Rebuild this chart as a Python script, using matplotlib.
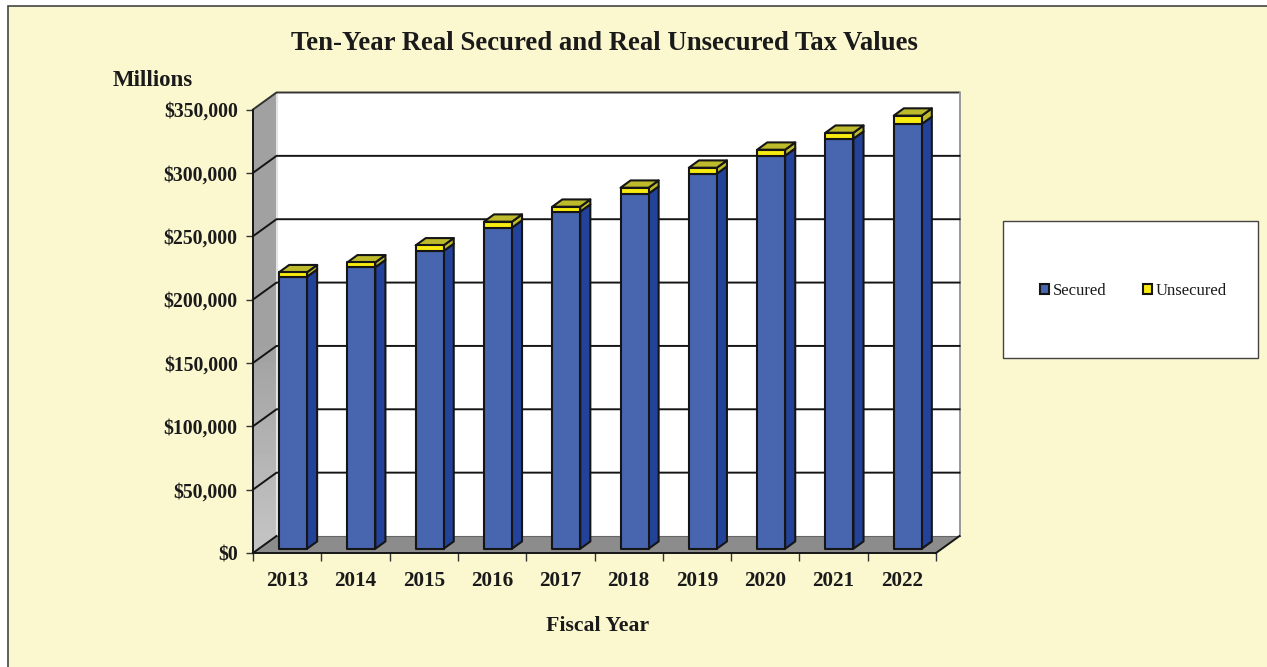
import numpy as np
import matplotlib
matplotlib.use("Agg")
import matplotlib.pyplot as plt
from matplotlib.patches import Polygon, Rectangle, Patch

years = ["2013", "2014", "2015", "2016", "2017", "2018", "2019", "2020", "2021", "2022"]
secured = [214700, 222200, 235000, 253400, 266000, 280200, 296000, 310200, 323600, 335200]
unsecured = [3500, 3800, 4400, 4700, 3900, 4700, 4700, 4700, 4700, 6600]
y_ticks = [0, 50000, 100000, 150000, 200000, 250000, 300000, 350000]

W, H = 1267, 667
BG = "#FBF8D0"
BLUE = "#4866B0"
BLUE_SIDE = "#23439B"
YELLOW = "#F7EB0F"
YELLOW_SIDE = "#BDBB2C"
EDGE = "#151515"

plt.rcParams["font.family"] = ["Liberation Serif", "DejaVu Serif"]
plt.rcParams["font.weight"] = "bold"

fig = plt.figure(figsize=(W / 100, H / 100), dpi=100, facecolor="white")
# page panel, runs off the right and bottom of the image
fig.add_artist(Rectangle((8 / W, -0.05), 1.1, 1 - 6 / H + 0.05, transform=fig.transFigure,
                         facecolor=BG, edgecolor="#444444", linewidth=1.2, zorder=-1))

ax = fig.add_axes([253 / W, 1 - 553 / H, (936 - 253) / W, (553 - 109.5) / H])
ax.set_xlim(-0.5, 9.5)
ax.set_ylim(0, 350000)
ax.patch.set_visible(False)

# oblique depth of the box, in data units
DX = 23.5 * 10 / (936 - 253)
DY = 17 * 350000 / (553 - 109.5)
BAR_D0, BAR_D1 = 0.25, 0.68
BAR_W = 0.41


def poly(pts, **kw):
    ax.add_patch(Polygon(pts, closed=True, clip_on=False, **kw))


x0, x1 = -0.5, 9.5
top = 350000

# back wall
poly([(x0 + DX, DY), (x1 + DX, DY), (x1 + DX, top + DY), (x0 + DX, top + DY)],
     facecolor="white", edgecolor="none", zorder=1)
ax.plot([x0, x0 + DX, x1 + DX], [top, top + DY, top + DY], color="#333333", lw=1.4,
        clip_on=False, zorder=2)
ax.plot([x1 + DX] * 2, [DY, top + DY], color="#999999", lw=1.4, clip_on=False, zorder=2)

# side wall with its light gradient towards the floor
side = Polygon([(x0, 0), (x0 + DX, DY), (x0 + DX, top + DY), (x0, top)], closed=True,
               facecolor="none", edgecolor="none", transform=ax.transData)
ax.add_patch(side)
ramp = np.concatenate([np.full(6, 0.63), np.linspace(0.63, 0.76, 6)])[:, None]
im = ax.imshow(ramp, cmap="gray", vmin=0, vmax=1, aspect="auto", interpolation="bilinear",
               extent=[x0, x0 + DX, 0, top + DY], zorder=1.5)
im.set_clip_box(fig.bbox)
im.set_clip_path(side)
ax.set_xlim(-0.5, 9.5)
ax.set_ylim(0, 350000)
ax.plot([x0 + DX + 0.012] * 2, [DY, top + DY], color="#E4E4E4", lw=1.5, clip_on=False, zorder=1.6)

# floor
poly([(x0, 0), (x1, 0), (x1 + DX, DY), (x0 + DX, DY)], facecolor="#8C8C8C", edgecolor="none", zorder=2)
ax.plot([x0 + DX, x1 + DX], [DY, DY], color="#666666", lw=0.8, clip_on=False, zorder=2.1)
ax.plot([x1, x1 + DX], [0, DY], color="#151515", lw=1.4, clip_on=False, zorder=2.1)

# gridlines on both walls
for t in y_ticks[1:-1]:
    ax.plot([x0, x0 + DX, x1 + DX], [t, t + DY, t + DY], color="#151515", lw=1.4,
            clip_on=False, zorder=3)
ax.plot([x0, x0 + DX], [0, DY], color="#151515", lw=1.4, clip_on=False, zorder=3)

# bars
for i in range(len(years)):
    left = i - BAR_W / 2 + BAR_D0 * DX
    right = left + BAR_W
    base = BAR_D0 * DY
    s = secured[i]
    t = secured[i] + unsecured[i]
    ddx = (BAR_D1 - BAR_D0) * DX
    ddy = (BAR_D1 - BAR_D0) * DY
    kw = dict(edgecolor=EDGE, linewidth=1.5, joinstyle="round", zorder=4)
    poly([(right, base), (right + ddx, base + ddy), (right + ddx, base + s + ddy), (right, base + s)],
         facecolor=BLUE_SIDE, **kw)
    poly([(right, base + s), (right + ddx, base + s + ddy), (right + ddx, base + t + ddy), (right, base + t)],
         facecolor=YELLOW_SIDE, **kw)
    poly([(left, base + t), (right, base + t), (right + ddx, base + t + ddy), (left + ddx, base + t + ddy)],
         facecolor=YELLOW_SIDE, **kw)
    ax.bar(left + BAR_W / 2, s, BAR_W, bottom=base, color=BLUE, clip_on=False, **kw)
    ax.bar(left + BAR_W / 2, unsecured[i], BAR_W, bottom=base + s, color=YELLOW, clip_on=False, **kw)

# axes
for name in ("top", "right"):
    ax.spines[name].set_visible(False)
for name in ("left", "bottom"):
    ax.spines[name].set_linewidth(1.4)
    ax.spines[name].set_color("#151515")
    ax.spines[name].set_zorder(5)
ax.set_xticks(range(len(years)))
ax.set_xticklabels(years)
ax.set_xticks(np.arange(-0.5, 10, 1), minor=True)
ax.set_yticks(y_ticks)
ax.set_yticklabels(["$" + format(t, ",") for t in y_ticks])
ax.tick_params(axis="x", which="major", length=0, pad=13, labelsize=15.2)
ax.tick_params(axis="x", which="minor", length=6, width=1, color="#333333")
ax.tick_params(axis="y", length=5, width=1, color="#333333", pad=6, labelsize=14.2)
for lab in ax.get_xticklabels() + ax.get_yticklabels():
    lab.set_color("#1A1A1A")
    lab.set_fontweight("bold")
    lab.set_parse_math(False)

fig.text(604 / W, 1 - 43 / H, "Ten-Year Real Secured and Real Unsecured Tax Values", ha="center", va="center",
         fontsize=19.3, fontweight="bold", color="#1A1A1A")
fig.text(153 / W, 1 - 81 / H, "Millions", ha="center", va="center", fontsize=16.5, fontweight="bold", color="#1A1A1A")
fig.text(598 / W, 1 - 626 / H, "Fiscal Year", ha="center", va="center", fontsize=15.7, fontweight="bold", color="#1A1A1A")

# legend box
fig.add_artist(Rectangle((1003 / W, 1 - 358 / H), 255 / W, 137 / H, transform=fig.transFigure,
                         facecolor="white", edgecolor="#444444", linewidth=1))
handles = [Patch(facecolor=BLUE, edgecolor=EDGE, linewidth=1.5, label="Secured"),
           Patch(facecolor=YELLOW, edgecolor=EDGE, linewidth=1.5, label="Unsecured")]
leg = fig.legend(handles=handles, ncol=2, loc="center", bbox_to_anchor=(1133.5 / W, 1 - 291 / H), frameon=False,
                 prop={"size": 12, "weight": "normal"}, handlelength=0.55, handleheight=0.55,
                 handletextpad=0.25, columnspacing=2.15, labelcolor="#1A1A1A")
leg.set_zorder(10)

fig.savefig("out.png", dpi=100, facecolor=fig.get_facecolor())
